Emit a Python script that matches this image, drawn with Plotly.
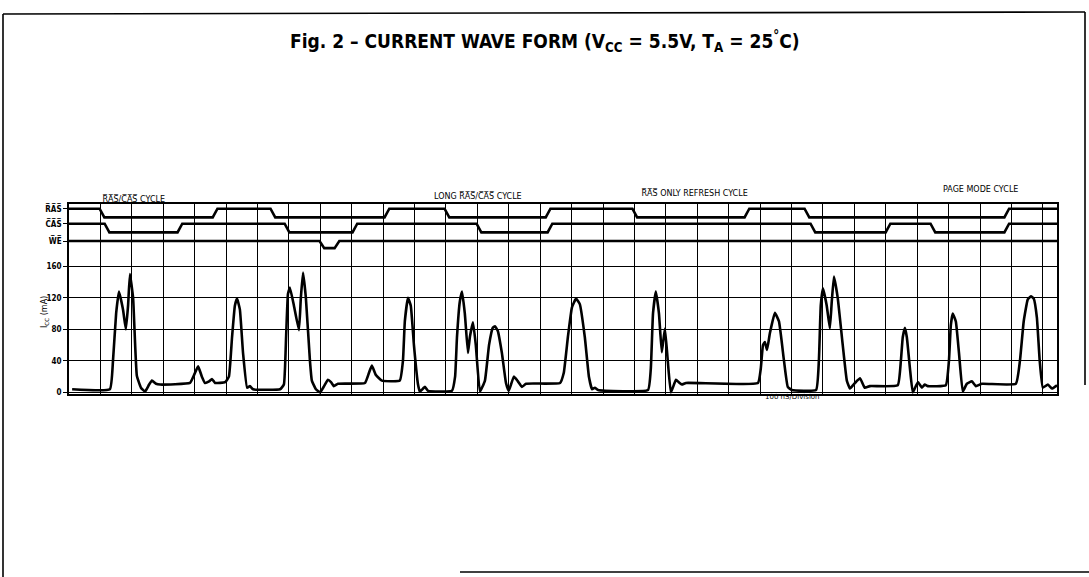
import plotly.graph_objects as go

# ---------------- data (time in ns, current in mA) ----------------
icc_t = [10, 130, 140, 150, 159, 172, 181, 188, 194, 204, 216, 229, 242, 255, 264, 277, 290,
         385, 398, 411, 423, 433, 446, 455, 465, 497, 509, 519, 528, 535, 544, 554, 567, 576, 586,
         672, 684, 691, 697, 703, 716, 732, 738, 745, 754, 767, 773, 786, 799, 812, 824, 834, 843, 856,
         942, 955, 964, 977, 996, 1053, 1063, 1069, 1079, 1088, 1098, 1111, 1117, 1133, 1143,
         1219, 1229, 1235, 1244, 1251, 1260, 1270, 1276, 1286, 1295, 1308, 1324, 1337, 1349, 1356,
         1365, 1378, 1391, 1400, 1416, 1429, 1442, 1455, 1563, 1575, 1588, 1601, 1614, 1626, 1642,
         1655, 1665, 1674, 1684, 1843, 1852, 1859, 1868, 1878, 1887, 1897, 1906, 1916, 1932, 1941,
         1951, 1964, 2193, 2202, 2209, 2215, 2222, 2231, 2247, 2260, 2276, 2288, 2301, 2378, 2387,
         2393, 2400, 2412, 2422, 2428, 2435, 2447, 2463, 2476, 2486, 2502, 2518, 2533, 2549, 2638,
         2648, 2654, 2661, 2667, 2677, 2686, 2702, 2715, 2724, 2734, 2791, 2801, 2807, 2813, 2823,
         2833, 2845, 2858, 2874, 2887, 2906, 3014, 3027, 3039, 3052, 3062, 3071, 3081, 3090, 3100,
         3116, 3129, 3145]
icc_ma = [4, 4, 40, 100, 128, 105, 80, 110, 150, 120, 21, 6, 1, 10, 15, 11, 10,
          12, 22, 33, 20, 12, 14, 17, 12, 13, 20, 70, 110, 119, 105, 50, 6, 8, 4,
          4, 10, 70, 125, 133, 110, 79, 120, 152, 120, 40, 15, 4, 0, 8, 16, 13, 8, 11,
          12, 25, 34, 22, 15, 15, 40, 90, 120, 110, 60, 10, 1, 7, 2,
          2, 20, 70, 115, 128, 100, 50, 70, 89, 60, 1, 15, 60, 82, 84,
          78, 50, 12, 2, 20, 14, 7, 11, 12, 25, 70, 108, 119, 112, 70,
          20, 4, 6, 3, 3, 30, 100, 128, 100, 51, 81, 40, 0, 16, 13,
          10, 12, 12, 30, 60, 64, 54, 75, 101, 90, 40, 7, 3, 3, 40,
          110, 132, 110, 81, 115, 147, 120, 60, 15, 5, 12, 18, 6, 8, 9,
          40, 70, 82, 70, 30, 0, 13, 6, 10, 8, 9, 40, 85, 100, 90,
          50, 1, 11, 14, 8, 11, 11, 40, 90, 118, 122, 119, 95, 40, 6,
          10, 5, 9]

# logic signals: edge times (ns), starting level is high
ras_edges = [105, 465, 649, 1012, 1203, 1525, 1801, 2158, 2349, 2985]
cas_edges = [121, 353, 694, 910, 1305, 1531, 2368, 2607, 2750, 2985]
we_edges = [805, 853]
ras_levels = (233, 222)   # high, low (drawn on the mA scale above the current trace)
cas_levels = (214, 203)
we_levels = (192, 183)

signal_tick_vals = [192, 214, 233]
signal_tick_text = ["W\u0305E\u0305", "C\u0305A\u0305S\u0305", "R\u0305A\u0305S\u0305"]
current_ticks = [0, 40, 80, 120, 160]

cycle_labels = ["R\u0305A\u0305S\u0305/C\u0305A\u0305S\u0305 CYCLE",
                "LONG R\u0305A\u0305S\u0305/C\u0305A\u0305S\u0305 CYCLE",
                "R\u0305A\u0305S\u0305 ONLY REFRESH CYCLE",
                "PAGE MODE CYCLE"]
cycle_label_t = [204, 1302, 1992, 2900]

T_MAX = 3145
Y_MIN, Y_MAX = -2, 239
RAMP = 15


def step_wave(edges, levels):
    hi, lo = levels
    xs, ys = [0], [hi]
    cur = hi
    for e in edges:
        nxt = lo if cur == hi else hi
        xs += [e - RAMP / 2, e + RAMP / 2]
        ys += [cur, nxt]
        cur = nxt
    xs.append(T_MAX)
    ys.append(cur)
    return xs, ys


FONT = "Liberation Sans Narrow, DejaVu Sans Condensed, Liberation Sans, Arial, sans-serif"
SMALL_FONT = "DejaVu Sans, Liberation Sans, Arial, sans-serif"

fig = go.Figure()
for edges, lv in [(ras_edges, ras_levels), (cas_edges, cas_levels), (we_edges, we_levels)]:
    sx, sy = step_wave(edges, lv)
    fig.add_trace(go.Scatter(x=sx, y=sy, mode="lines",
                             line=dict(color="black", width=2.6), hoverinfo="skip"))

fig.add_trace(go.Scatter(x=icc_t, y=icc_ma, mode="lines",
                         line=dict(color="black", width=2.6, shape="spline", smoothing=0.35),
                         hoverinfo="skip"))
# invisible trace to activate y2 grid axis
fig.add_trace(go.Scatter(x=[0], y=[0], yaxis="y2", mode="markers",
                         marker=dict(opacity=0), hoverinfo="skip"))

# page geometry (pixels)
W, H = 1089, 577
L, R = 69, 1057
TOP, BOT = 204, 394


def px_x(p):
    return (p - L) / (R - L)


def px_y(p):
    return (BOT - p) / (BOT - TOP)


fig.update_layout(
    width=W, height=H,
    margin=dict(l=L, r=W - R, t=TOP, b=H - BOT, pad=0),
    paper_bgcolor="white", plot_bgcolor="white",
    showlegend=False,
    xaxis=dict(range=[0, T_MAX], dtick=100, tick0=0, showgrid=True, gridcolor="black",
               gridwidth=1.2, showticklabels=False, ticks="", zeroline=False,
               showline=True, linecolor="black", linewidth=1.6, mirror=True),
    yaxis=dict(range=[Y_MIN, Y_MAX], tickvals=current_ticks + signal_tick_vals,
               ticktext=[f"<b>{v}</b>" for v in current_ticks] + [f"<b>{s}</b>" for s in signal_tick_text],
               ticks="outside", ticklen=4, tickcolor="black", tickwidth=1.2,
               tickfont=dict(family=FONT, size=8, color="black"),
               showgrid=False, zeroline=False,
               showline=True, linecolor="black", linewidth=1.6, mirror=True),
    yaxis2=dict(range=[Y_MIN, Y_MAX], overlaying="y", tickvals=current_ticks,
                showgrid=True, gridcolor="black", gridwidth=1.2, showticklabels=False,
                ticks="", zeroline=False, showline=False),
    font=dict(family=FONT, color="black"),
)

# title
fig.add_annotation(
    text="<b>Fig. 2 – CURRENT WAVE FORM (V<sub>CC</sub> = 5.5V, T<sub>A</sub> = 25<sup>°</sup>C)</b>",
    xref="paper", yref="paper", x=px_x(545), y=px_y(41),
    showarrow=False, font=dict(family=FONT, size=19, color="black"),
    xanchor="center", yanchor="middle")

cycle_label_px_y = [199, 196, 193, 189]
for txt, t, py in zip(cycle_labels, cycle_label_t, cycle_label_px_y):
    fig.add_annotation(text=txt, x=t, y=px_y(py), xref="x", yref="paper", showarrow=False,
                       font=dict(family=SMALL_FONT, size=8, color="black"),
                       xanchor="center", yanchor="middle")

fig.add_annotation(text="I<sub>CC</sub> (mA)", xref="paper", yref="paper",
                   x=px_x(38), y=px_y(312), textangle=-90,
                   showarrow=False, font=dict(family=SMALL_FONT, size=8, color="black"))
fig.add_annotation(text="100 nS/Division", xref="paper", yref="paper",
                   x=px_x(822), y=px_y(403),
                   showarrow=False, font=dict(family=SMALL_FONT, size=7, color="black"))

# page frame of the scanned figure
frame = [(3, 14, 3, 577), (3, 14, 1085, 12), (1085, 12, 1085, 385), (460, 572, 1089, 572)]
for x0, y0, x1, y1 in frame:
    fig.add_shape(type="line", xref="paper", yref="paper",
                  x0=px_x(x0), y0=px_y(y0), x1=px_x(x1), y1=px_y(y1),
                  line=dict(color="black", width=1.6))

fig.write_html("out.html", config={"displayModeBar": False},
               post_script="document.body.style.margin='0px';document.body.style.overflow='hidden';")
